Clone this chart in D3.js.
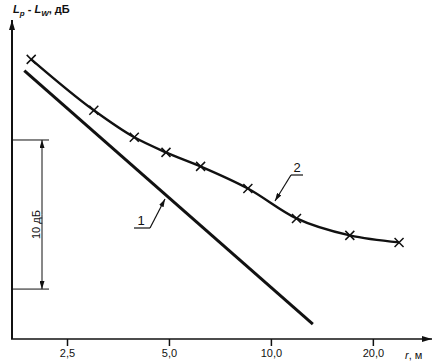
<!DOCTYPE html>
<html>
<head>
<meta charset="utf-8">
<script src="https://cdn.jsdelivr.net/npm/d3@7/dist/d3.min.js"></script>
<style>
body { margin: 0; background: #fff; }
svg { display: block; }
text { font-family: "Liberation Sans", Arial, sans-serif; fill: #111; }
</style>
</head>
<body>
<svg width="440" height="363"></svg>
<script>
// distance r, m and level difference Lp - Lw, dB
var line1R = [1.87, 13.3];
var line1V = [-13.4, -30.4];

var line2R = [1.96, 3.0, 3.95, 4.9, 6.2, 8.55, 11.9, 17.1, 23.9];
var line2V = [-12.64, -16.06, -17.87, -18.88, -19.82, -21.3, -23.31, -24.45, -24.92];

var xTicks = [2.5, 5, 10, 20];
var xTickLabels = ["2,5", "5,0", "10,0", "20,0"];

var scaleBar = [-18.05, -28.05]; // 10 dB bracket

var svg = d3.select("svg");

var defs = svg.append("defs");
defs.append("marker")
    .attr("id", "arr")
    .attr("viewBox", "0 0 10 6")
    .attr("refX", 10).attr("refY", 3)
    .attr("markerWidth", 10).attr("markerHeight", 6)
    .attr("markerUnits", "userSpaceOnUse")
    .attr("orient", "auto")
  .append("path").attr("d", "M0,0L10,3L0,6Z").attr("fill", "#111");
defs.append("marker")
    .attr("id", "arrs")
    .attr("viewBox", "0 0 8 5")
    .attr("refX", 8).attr("refY", 2.5)
    .attr("markerWidth", 8).attr("markerHeight", 5)
    .attr("markerUnits", "userSpaceOnUse")
    .attr("orient", "auto")
  .append("path").attr("d", "M0,0L8,2.5L0,5Z").attr("fill", "#111");

var x = d3.scaleLog().domain([1.72, 29.9]).range([12, 432]);
var y = d3.scaleLinear().domain([-31.4, -10]).range([339, 20]);

// axes
svg.append("line")
    .attr("x1", 12).attr("y1", 339).attr("x2", 12).attr("y2", 20)
    .attr("stroke", "#111").attr("stroke-width", 2)
    .attr("marker-end", "url(#arr)");
svg.append("line")
    .attr("x1", 11).attr("y1", 339).attr("x2", 432).attr("y2", 339)
    .attr("stroke", "#111").attr("stroke-width", 1.5)
    .attr("marker-end", "url(#arr)");

var xAxis = svg.append("g")
    .attr("transform", "translate(0,339)")
    .call(d3.axisBottom(x).tickValues(xTicks).tickSize(7).tickPadding(3)
      .tickFormat(function(d, i) { return xTickLabels[i]; }));
xAxis.select(".domain").remove();
xAxis.selectAll("line").attr("stroke", "#111").attr("stroke-width", 1.5);
xAxis.selectAll("text").attr("font-size", 11).attr("font-family", "Liberation Sans, Arial, sans-serif").attr("fill", "#111");

svg.append("text")
    .attr("x", 405).attr("y", 359)
    .attr("font-size", 11)
    .html('<tspan font-style="italic">r</tspan>, м');

// y label
var yl = svg.append("text")
    .attr("x", 13).attr("y", 13)
    .attr("font-size", 11).attr("font-weight", "bold");
yl.append("tspan").attr("font-style", "italic").text("L");
yl.append("tspan").attr("font-style", "italic").attr("font-size", 8).attr("dy", 3).text("p");
yl.append("tspan").attr("dy", -3).text(" - ");
yl.append("tspan").attr("font-style", "italic").text("L");
yl.append("tspan").attr("font-style", "italic").attr("font-size", 8).attr("dy", 3).text("W");
yl.append("tspan").attr("dy", -3).text(", дБ");

// 10 dB scale bar
svg.selectAll(".sb").data(scaleBar).enter().append("line")
    .attr("x1", 12).attr("x2", 49)
    .attr("y1", function(d) { return y(d); }).attr("y2", function(d) { return y(d); })
    .attr("stroke", "#111").attr("stroke-width", 1);
var yMid = (y(scaleBar[0]) + y(scaleBar[1])) / 2;
svg.append("line")
    .attr("x1", 42).attr("x2", 42).attr("y1", yMid).attr("y2", y(scaleBar[0]))
    .attr("stroke", "#111").attr("stroke-width", 1).attr("marker-end", "url(#arrs)");
svg.append("line")
    .attr("x1", 42).attr("x2", 42).attr("y1", yMid).attr("y2", y(scaleBar[1]))
    .attr("stroke", "#111").attr("stroke-width", 1).attr("marker-end", "url(#arrs)");
svg.append("text")
    .attr("transform", "translate(40," + (yMid + 10) + ") rotate(-90)")
    .attr("text-anchor", "middle")
    .attr("font-size", 11)
    .text("10 дБ");

var line = d3.line()
    .x(function(d) { return x(d[0]); })
    .y(function(d) { return y(d[1]); });

var pts1 = line1R.map(function(r, i) { return [r, line1V[i]]; });
var pts2 = line2R.map(function(r, i) { return [r, line2V[i]]; });

svg.append("path")
    .attr("d", line(pts1))
    .attr("fill", "none").attr("stroke", "#111").attr("stroke-width", 3);

svg.append("path")
    .attr("d", line.curve(d3.curveMonotoneX)(pts2))
    .attr("fill", "none").attr("stroke", "#111").attr("stroke-width", 2.4);

svg.selectAll(".cross").data(pts2).enter().append("path")
    .attr("class", "cross")
    .attr("transform", function(d) { return "translate(" + x(d[0]) + "," + y(d[1]) + ")"; })
    .attr("d", "M-4.5,-4.5L4.5,4.5M-4.5,4.5L4.5,-4.5")
    .attr("stroke", "#111").attr("stroke-width", 1.5);

// callouts
function callout(label, tx, ty, ux1, ux2, uy, lx1, ly1, lx2, ly2) {
  svg.append("text").attr("x", tx).attr("y", ty).attr("text-anchor", "middle")
    .attr("font-size", 13).text(label);
  svg.append("line").attr("x1", ux1).attr("x2", ux2).attr("y1", uy).attr("y2", uy)
    .attr("stroke", "#111").attr("stroke-width", 1.2);
  svg.append("line").attr("x1", lx1).attr("y1", ly1).attr("x2", lx2).attr("y2", ly2)
    .attr("stroke", "#111").attr("stroke-width", 1.2).attr("marker-end", "url(#arrs)");
}
callout("1", 141, 225, 134, 150, 228, 150, 228, 165, 199);
callout("2", 297, 172, 291, 303, 175, 291, 175, 275, 201);
</script>
</body>
</html>
